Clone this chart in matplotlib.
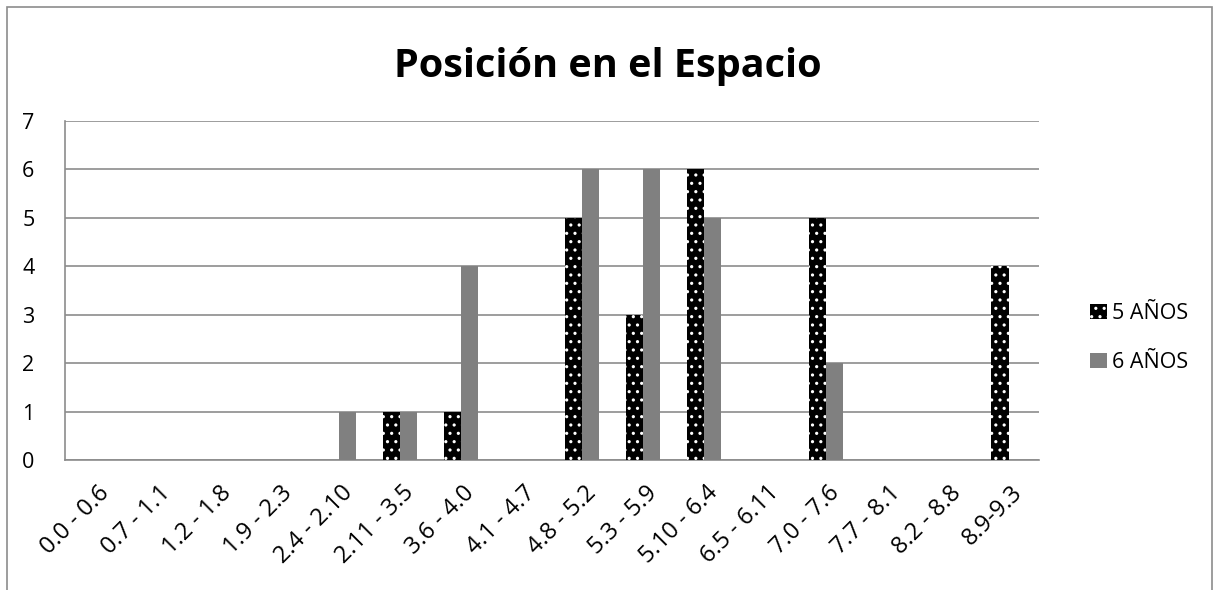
import matplotlib
matplotlib.use("Agg")
import matplotlib.pyplot as plt
import matplotlib.transforms as mtransforms
import numpy as np
from matplotlib.patches import Rectangle

categories = ["0.0 - 0.6", "0.7 - 1.1", "1.2 - 1.8", "1.9 - 2.3", "2.4 - 2.10",
              "2.11 - 3.5", "3.6 - 4.0", "4.1 - 4.7", "4.8 - 5.2", "5.3 - 5.9",
              "5.10 - 6.4", "6.5 - 6.11", "7.0 - 7.6", "7.7 - 8.1", "8.2 - 8.8",
              "8.9-9.3"]
anos5 = [0, 0, 0, 0, 0, 1, 1, 0, 5, 3, 6, 0, 5, 0, 0, 4]
anos6 = [0, 0, 0, 0, 1, 1, 4, 0, 6, 6, 5, 0, 2, 0, 0, 0]
series_names = ["5 AÑOS", "6 AÑOS"]
title = "Posición en el Espacio"

plt.rcParams['font.family'] = ['Open Sans', 'DejaVu Sans']
plt.rcParams['hatch.linewidth'] = 1.1

fig = plt.figure(figsize=(12.14, 5.90), dpi=100)
ax = fig.add_axes([0.0535, 0.2203, 0.8023, 0.5746])

x = np.arange(len(categories))
w = 0.28
b1 = ax.bar(x - w / 2, anos5, w, color="black", edgecolor="white",
            linewidth=0, hatch="..", label=series_names[0], zorder=3)
b2 = ax.bar(x + w / 2, anos6, w, color="#808080", linewidth=0,
            label=series_names[1], zorder=3)

ax.set_xlim(-0.5, len(categories) - 0.5)
ax.set_ylim(0, 7)
ax.set_yticks(range(0, 8))
ax.yaxis.grid(True, color="#8c8c8c", linewidth=1.2, zorder=0)
ax.set_axisbelow(True)
for s in ["top", "right"]:
    ax.spines[s].set_visible(False)
for s in ["left", "bottom"]:
    ax.spines[s].set_color("#8c8c8c")
    ax.spines[s].set_linewidth(1.2)
ax.tick_params(axis="y", length=0, labelsize=15.5, pad=22)
ax.tick_params(axis="x", length=0, labelsize=17, pad=15)
ax.set_xticks(x)
ax.set_xticklabels(categories, rotation=45, ha="right", rotation_mode="anchor")
offset = mtransforms.ScaledTranslation(2 / 100, 0, fig.dpi_scale_trans)
for lbl in ax.get_xticklabels():
    lbl.set_transform(lbl.get_transform() + offset)

fig.text(0.501, 0.888, title, ha="center", va="center", fontsize=28.5,
         fontweight="bold")

leg = ax.legend(loc="center left", bbox_to_anchor=(1.033, 0.36), frameon=False,
                fontsize=15.5, handlelength=0.75, handleheight=0.75,
                handletextpad=0.25, labelspacing=1.3)

fig.patches.append(Rectangle((7 / 1214, -0.1), (1212 - 7) / 1214, 1.1 - 7 / 590,
                             transform=fig.transFigure, fill=False,
                             edgecolor="#8c8c8c", linewidth=1.2))

fig.savefig("out.png", dpi=100)
